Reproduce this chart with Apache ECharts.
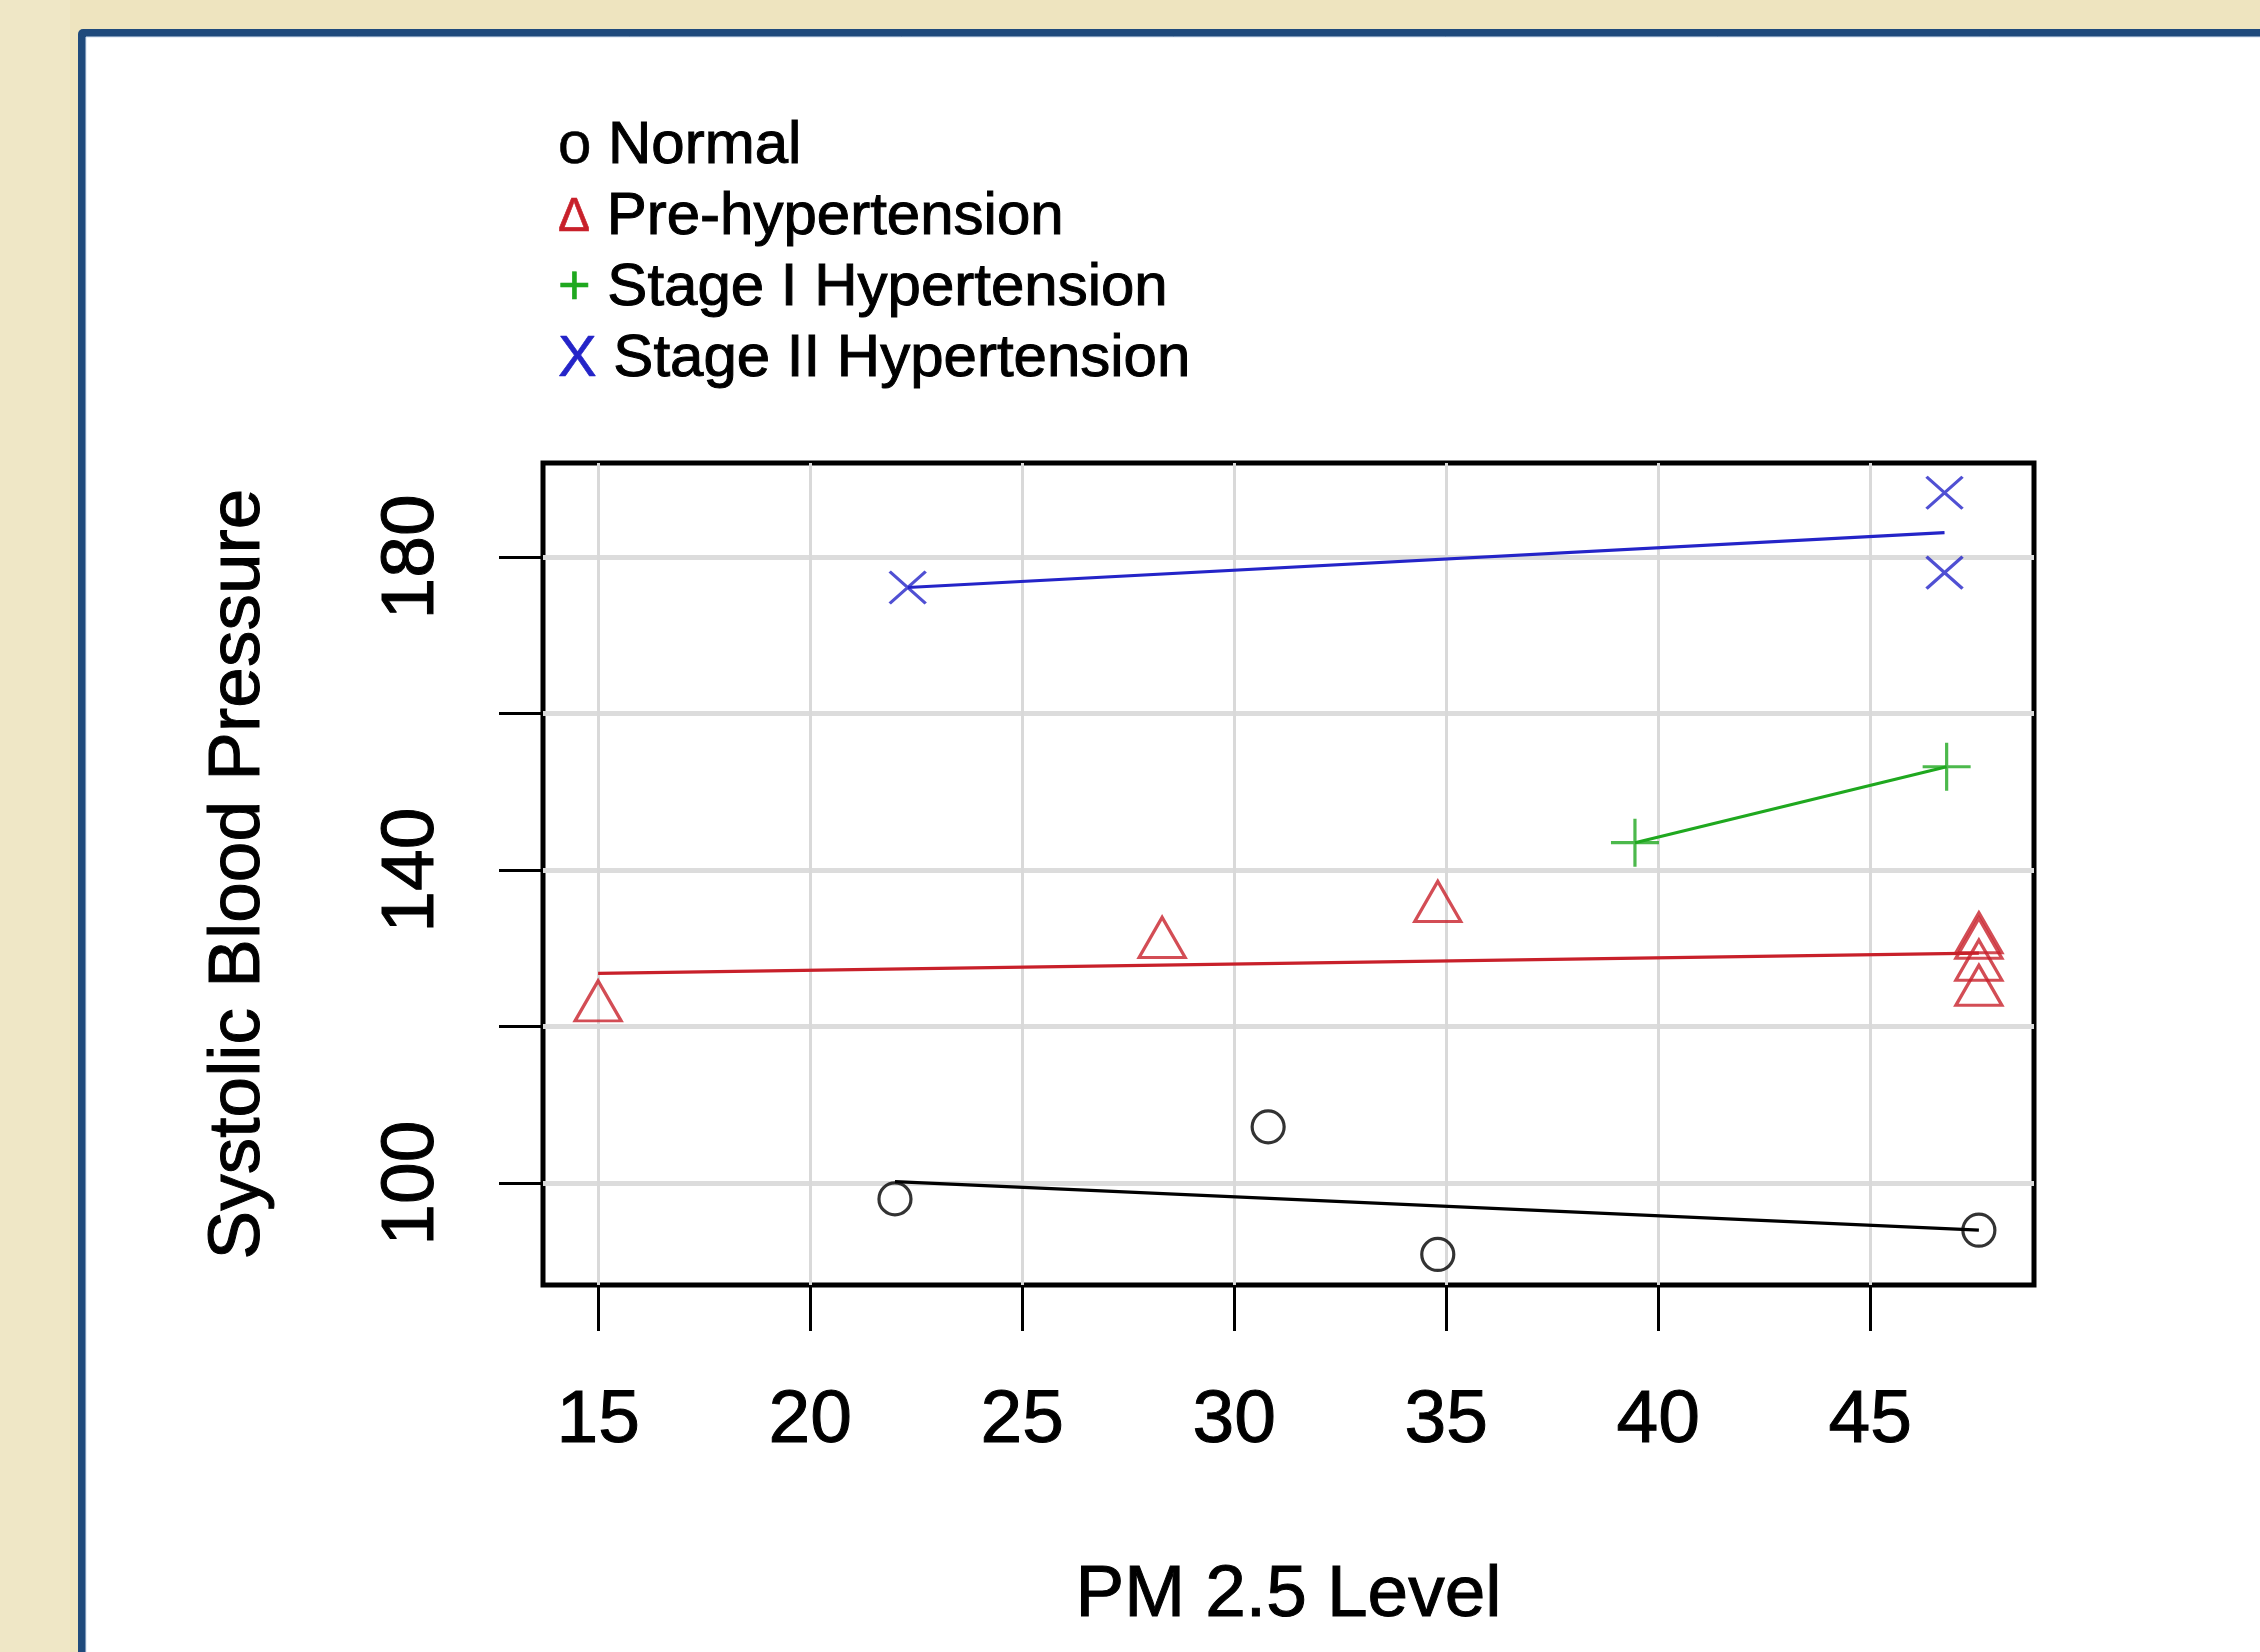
<!DOCTYPE html>
<html>
<head>
<meta charset="utf-8">
<script src="https://cdn.jsdelivr.net/npm/echarts@6/dist/echarts.min.js"></script>
<style>
  body { margin: 0; background: #eee4bf; }
  #chart { width: 2260px; height: 1652px; }
</style>
</head>
<body>
<div id="chart"></div>
<script>
const xTicks = [15, 20, 25, 30, 35, 40, 45];
const yTicks = [100, 120, 140, 160, 180];
const yLabels = [100, 140, 180];

const groups = ['Normal', 'Pre-hypertension', 'Stage I Hypertension', 'Stage II Hypertension'];

// points
const normalX = [22.0, 30.8, 34.8, 47.56];
const normalY = [98.0, 107.2, 90.9, 94.0];
const preX = [15.0, 28.3, 34.8, 47.56, 47.56, 47.56, 47.56];
const preY = [122.4, 130.5, 135.1, 131.1, 130.4, 127.6, 124.4];
const stage1X = [39.45, 46.8];
const stage1Y = [143.5, 153.2];
const stage2X = [22.3, 46.75, 46.75];
const stage2Y = [176.1, 188.2, 178.0];

// fitted line end points, also
const normalFitX = [22.0, 47.56];
const normalFitY = [100.2, 94.0];
const preFitX = [15.0, 47.56];
const preFitY = [126.8, 129.4];
const stage1FitX = [39.45, 46.8];
const stage1FitY = [143.5, 153.2];
const stage2FitX = [22.3, 46.75];
const stage2FitY = [176.1, 183.1];

const colors = ['#000000', '#c8202a', '#1fa81f', '#2424c8'];
const legendChars = ['o', '\u0394', '+', 'X'];
const legendKeys = ['n', 'p', 's', 'x'];

const pairs = (xs, ys) => xs.map((x, i) => [x, ys[i]]);

const font = 'Liberation Sans, Arial, sans-serif';
const heavy = {textBorderColor: '#000', textBorderWidth: 1};

const chart = echarts.init(document.getElementById('chart'));

function scatter(name, xs, ys, symbol, size, color, extra) {
  return Object.assign({
    type: 'scatter',
    name,
    data: pairs(xs, ys),
    symbol,
    symbolSize: size,
    itemStyle: {color: 'rgba(0,0,0,0)', borderColor: color, borderWidth: 3.2},
    emphasis: {disabled: true},
    z: 4
  }, extra || {});
}

function fit(name, xs, ys, color) {
  return {
    type: 'line',
    name,
    data: pairs(xs, ys),
    showSymbol: false,
    symbol: 'none',
    lineStyle: {color, width: 3.2},
    emphasis: {disabled: true},
    z: 3
  };
}

const plusPath = 'path://M5,0L5,10M0,5L10,5';
const crossPath = 'path://M0,0L10,10M10,0L0,10';

const rich = {};
legendKeys.forEach((k, i) => {
  rich[k] = {
    color: colors[i],
    fontFamily: font,
    fontSize: [60, 48, 56, 58][i],
    lineHeight: 60,
    textBorderColor: colors[i],
    textBorderWidth: 0.6
  };
});

chart.setOption({
  backgroundColor: '#eee4bf',
  animation: false,
  graphic: [
    {type: 'rect', shape: {x: 0, y: 0, width: 70, height: 1652}, style: {fill: '#efe7c6'}, z: -20},
    {type: 'rect', shape: {x: 78, y: 29, width: 2300, height: 1700, r: 5}, style: {fill: '#1f4a7c'}, z: -19},
    {type: 'rect', shape: {x: 86, y: 37, width: 2300, height: 1700}, style: {fill: '#ffffff', stroke: '#d4e0f0', lineWidth: 1}, z: -18}
  ],
  legend: {
    data: groups,
    orient: 'vertical',
    left: 552,
    top: 116,
    padding: 0,
    icon: 'none',
    itemWidth: 1,
    itemHeight: 60,
    itemGap: 10,
    selectedMode: false,
    formatter: name => {
      const i = groups.indexOf(name);
      return '{' + legendKeys[i] + '|' + legendChars[i] + '} ' + name;
    },
    textStyle: Object.assign({color: '#000', fontFamily: font, fontSize: 60, lineHeight: 60, rich}, heavy)
  },
  grid: {
    left: 543, top: 463, right: 226, bottom: 367,
    show: true,
    borderColor: '#000',
    borderWidth: 5,
    backgroundColor: 'transparent',
    outerBoundsMode: 'none'
  },
  xAxis: {
    type: 'value',
    min: 13.7,
    max: 48.86,
    name: 'PM 2.5 Level',
    nameLocation: 'middle',
    nameGap: 274,
    nameTextStyle: Object.assign({color: '#000', fontFamily: font, fontSize: 73, lineHeight: 73}, heavy),
    axisLine: {show: false},
    axisTick: {show: true, customValues: xTicks, length: 46, lineStyle: {color: '#000', width: 3}},
    axisLabel: Object.assign({customValues: xTicks, margin: 99, color: '#000', fontFamily: font, fontSize: 75, lineHeight: 75}, heavy),
    splitLine: {show: true, lineStyle: {color: '#d9d9d9', width: 3}}
  },
  yAxis: {
    type: 'value',
    min: 87,
    max: 192,
    name: 'Systolic Blood Pressure',
    nameLocation: 'middle',
    nameGap: 268,
    nameTextStyle: Object.assign({color: '#000', fontFamily: font, fontSize: 73, lineHeight: 73}, heavy),
    axisLine: {show: false},
    axisTick: {show: true, customValues: yTicks, length: 44, lineStyle: {color: '#000', width: 3}},
    axisLabel: Object.assign({customValues: yLabels, rotate: 90, margin: 93, color: '#000', fontFamily: font, fontSize: 75, lineHeight: 75}, heavy),
    splitLine: {show: true, lineStyle: {color: '#dcdcdc', width: 5}}
  },
  series: [
    fit('Normal fit', normalFitX, normalFitY, colors[0]),
    fit('Pre-hypertension fit', preFitX, preFitY, colors[1]),
    fit('Stage I fit', stage1FitX, stage1FitY, colors[2]),
    fit('Stage II fit', stage2FitX, stage2FitY, colors[3]),
    scatter(groups[0], normalX, normalY, 'circle', 32, colors[0]),
    scatter(groups[1], preX, preY, 'triangle', [46, 40], colors[1], {symbolOffset: [0, -7]}),
    scatter(groups[2], stage1X, stage1Y, plusPath, 48, colors[2]),
    scatter(groups[3], stage2X, stage2Y, crossPath, [36, 32], colors[3])
  ]
});
</script>
</body>
</html>
